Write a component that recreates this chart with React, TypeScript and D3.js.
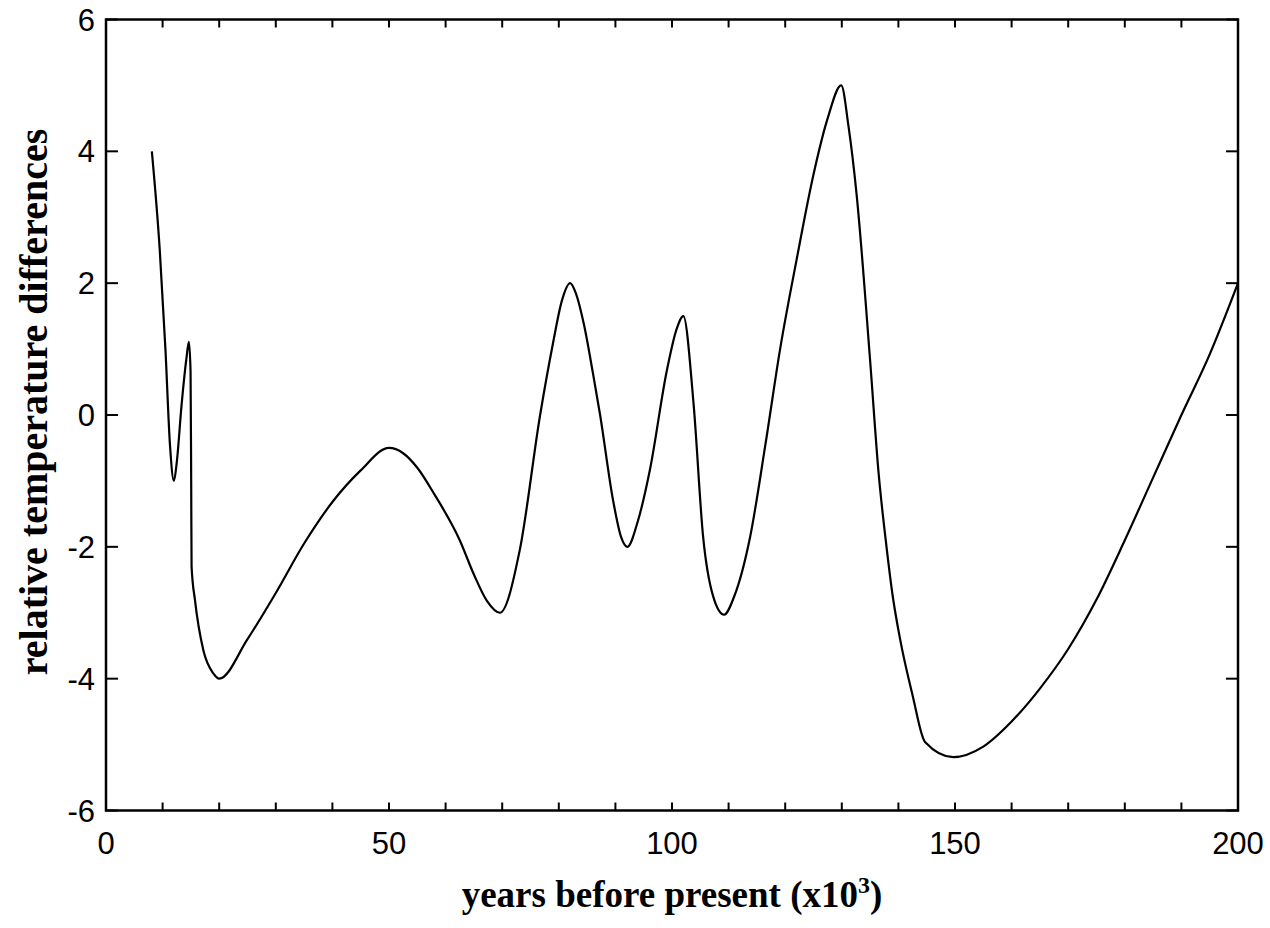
import React from "react";
import * as d3 from "d3";

const years = [
  8.1, 9.5, 10.5, 11.3, 12.0, 12.5, 13.35, 14.2, 14.65, 14.94, 15.05, 15.12, 15.72, 17.2, 18.96, 20.0,
  25, 30, 35, 40, 45, 50, 52.5, 55, 58, 62.5, 65, 67.3, 69.6,
  73.1, 76.7, 79, 80.5, 82.0, 83, 84.5, 86, 87.3, 89.6, 91, 92.1,
  94, 96.1, 99.1, 100.8, 102.0, 103.8, 105.5, 107.3, 109.2,
  111, 113.8, 116.5, 119.1, 122, 125.0, 127.5, 129.9,
  131.2, 132.6, 135.0, 136.5, 137.9, 139, 140.3, 142.5, 144.7, 149.7,
  155, 160, 165, 170, 175, 180, 185, 190, 195, 200,
];
const temps = [
  4.0, 2.5, 1.0, -0.45, -1.0, -0.72, 0.15, 0.85, 1.11, 0.66, -1.0, -2.3, -2.81, -3.57, -3.92, -4.0,
  -3.4, -2.7, -1.95, -1.32, -0.84, -0.5, -0.58, -0.8, -1.2, -1.9, -2.42, -2.82, -3.0,
  -2.05, 0.0, 1.1, 1.72, 2.0, 1.85, 1.35, 0.65, 0.0, -1.3, -1.85, -2.0,
  -1.6, -0.83, 0.68, 1.3, 1.5, 0.18, -1.85, -2.76, -3.03,
  -2.75, -1.85, -0.45, 1.0, 2.35, 3.65, 4.5, 5.0,
  4.37, 3.36, 0.83, -0.88, -2.0, -2.75, -3.4, -4.25, -4.96, -5.19,
  -5.03, -4.65, -4.15, -3.55, -2.8, -1.9, -0.95, 0.0, 0.92, 2.0,
];

const xTickLabels = [0, 50, 100, 150, 200];
const xMinorTicks = d3.range(0, 201, 10);
const yTicks = [-6, -4, -2, 0, 2, 4, 6];

export default function App() {
  const W = 1270, H = 928;
  const left = 106, right = 1238, top = 19.5, bottom = 810.5;
  const x = d3.scaleLinear().domain([0, 200]).range([left, right]);
  const y = d3.scaleLinear().domain([-6, 6]).range([bottom, top]);
  const pts: [number, number][] = years.map((v, i) => [v, temps[i]]);
  const line = d3
    .line<[number, number]>()
    .x((d) => x(d[0]))
    .y((d) => y(d[1]))
    .curve(d3.curveMonotoneX);
  const sans = "Liberation Sans, Arial, sans-serif";
  const serif = "Liberation Serif, Times New Roman, serif";
  return (
    <svg width={W} height={H} style={{ position: "absolute", left: 0, top: 0, background: "#fff" }}>
      <rect x={0} y={0} width={W} height={H} fill="#fff" />
      {xMinorTicks.map((t) => (
        <g key={"xt" + t}>
          <line x1={x(t)} x2={x(t)} y1={bottom} y2={bottom - 8} stroke="#000" strokeWidth={2} />
          <line x1={x(t)} x2={x(t)} y1={top} y2={top + 8} stroke="#000" strokeWidth={2} />
        </g>
      ))}
      {yTicks.map((t) => (
        <g key={"yt" + t}>
          <line x1={left} x2={left + 12} y1={y(t)} y2={y(t)} stroke="#000" strokeWidth={2} />
          <line x1={right} x2={right - 12} y1={y(t)} y2={y(t)} stroke="#000" strokeWidth={2} />
          <text x={left - 11} y={y(t)} dy="0.36em" textAnchor="end" fontFamily={sans} fontSize={31}>
            {t}
          </text>
        </g>
      ))}
      {xTickLabels.map((t) => (
        <text key={"xl" + t} x={x(t)} y={854} textAnchor="middle" fontFamily={sans} fontSize={31}>
          {t}
        </text>
      ))}
      <rect x={left} y={top} width={right - left} height={bottom - top} fill="none" stroke="#000" strokeWidth={2.5} />
      <path d={line(pts) || ""} fill="none" stroke="#000" strokeWidth={2.2} strokeLinejoin="round" />
      <text x={(left + right) / 2} y={907} textAnchor="middle" fontFamily={serif} fontWeight="bold" fontSize={37}>
        years before present (x10
        <tspan dy={-14} fontSize={24}>3</tspan>
        <tspan dy={14}>)</tspan>
      </text>
      <text
        transform={`translate(47, 402) rotate(-90)`}
        textAnchor="middle"
        fontFamily={serif}
        fontWeight="bold"
        fontSize={40}
      >
        relative temperature differences
      </text>
    </svg>
  );
}
